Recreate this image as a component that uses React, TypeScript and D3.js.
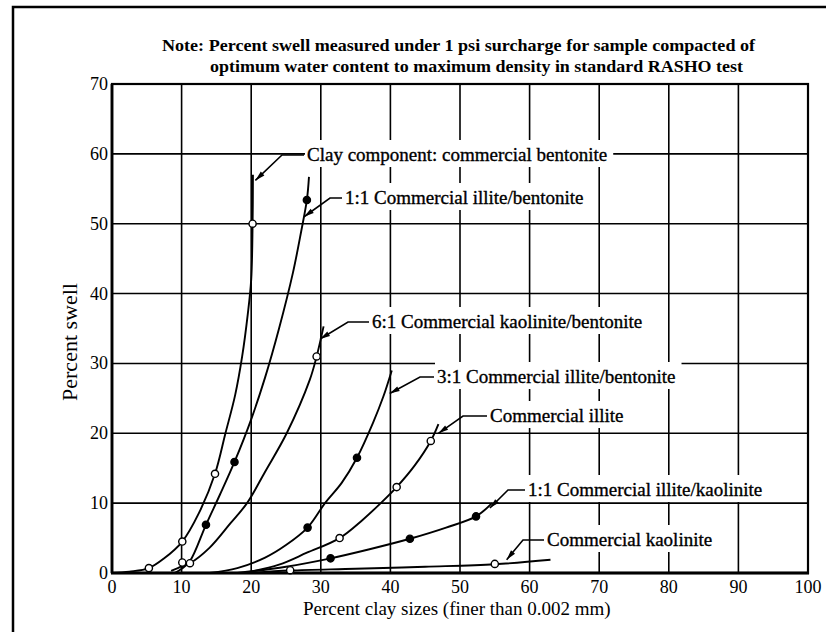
import React, { useEffect, useRef } from "react";
import * as d3 from "d3";

const W = 826;
const H = 632;

const xTicks = [0, 10, 20, 30, 40, 50, 60, 70, 80, 90, 100];
const yTicks = [0, 10, 20, 30, 40, 50, 60, 70];

const titleLines = [
  "Note: Percent swell measured under 1 psi surcharge for sample compacted of",
  "optimum water content to maximum density in standard RASHO test",
];
const xTitle = "Percent clay sizes (finer than 0.002 mm)";
const yTitle = "Percent swell";

// Swell curves: [percent clay sizes, percent swell]
const bentoniteCurve: [number, number][] = [
  [0, 0], [2.5, 0.2], [5.3, 0.7], [7.5, 2.1], [10.1, 4.5], [12.5, 8.6], [14.8, 14.2],
  [16.3, 20], [17.7, 25.5], [18.7, 31], [19.5, 37], [20.0, 42], [20.2, 50], [20.25, 57],
];
const bentoniteMarks: [number, number][] = [[5.3, 0.7], [10.1, 4.5], [14.8, 14.2], [20.2, 50]];

const illiteBentonite11Curve: [number, number][] = [
  [9, 0], [10, 0.6], [11.2, 1.7], [13.5, 6.9], [15.5, 11.2], [17.6, 15.9], [20, 22],
  [22, 28], [24, 35], [26, 43], [27.2, 49], [28, 53.4], [28.3, 56.7],
];
const illiteBentonite11Marks: [number, number][] = [[13.5, 6.9], [17.6, 15.9], [28, 53.4]];

const kaoliniteBentonite61Curve: [number, number][] = [
  [8.5, 0.3], [10.1, 1.0], [11.2, 1.4], [14, 3.6], [17, 7.1], [19.4, 10], [22, 14.5],
  [25.1, 20], [28.4, 27.6], [29.4, 31], [30.4, 35.3],
];
const kaoliniteBentonite61Marks: [number, number][] = [[10.1, 1.5], [11.2, 1.4], [29.4, 31]];

const illiteBentonite31Curve: [number, number][] = [
  [14, 0], [18, 0.7], [22, 2.2], [25, 4], [28.1, 6.5], [30.6, 10], [33, 12.9],
  [35.2, 16.5], [37.5, 21.5], [39, 25.3], [40.2, 29],
];
const illiteBentonite31Marks: [number, number][] = [[28.1, 6.5], [35.2, 16.5]];

const illiteCurve: [number, number][] = [
  [19, 0], [24, 1.2], [28, 2.9], [32.7, 5], [36, 7.6], [38.5, 9.9], [40.9, 12.3],
  [43.5, 15.4], [45.8, 18.9], [46.9, 21.3],
];
const illiteMarks: [number, number][] = [[32.7, 5], [40.9, 12.3], [45.8, 18.9]];

const illiteKaolinite11Curve: [number, number][] = [
  [18, 0], [25, 0.9], [31.4, 2.1], [37, 3.4], [42.8, 4.9], [48, 6.5], [52.3, 8.1], [54.6, 10],
];
const illiteKaolinite11Marks: [number, number][] = [[31.4, 2.1], [42.8, 4.9], [52.3, 8.1]];

const kaoliniteCurve: [number, number][] = [
  [20, 0], [25.6, 0.35], [35, 0.6], [45, 0.9], [55, 1.25], [63, 1.9],
];
const kaoliniteMarks: [number, number][] = [[25.6, 0.4], [55, 1.3]];

const seriesNames = [
  "Clay component: commercial bentonite",
  "1:1 Commercial illite/bentonite",
  "6:1 Commercial kaolinite/bentonite",
  "3:1 Commercial illite/bentonite",
  "Commercial illite",
  "1:1 Commercial illite/kaolinite",
  "Commercial kaolinite",
];

// Callout placement: text start x, leader y (px), elbow x (px), arrow tip in data units
const callouts = [
  { tx: 307, ly: 155, ex: 282, tip: [20.6, 56.2] },
  { tx: 345, ly: 198, ex: 330, tip: [27.6, 51] },
  { tx: 372, ly: 322, ex: 348, tip: [29.9, 33.5] },
  { tx: 437, ly: 377, ex: 420, tip: [39.9, 25.7] },
  { tx: 490, ly: 416, ex: 463, tip: [46.9, 20.0] },
  { tx: 528, ly: 490, ex: 508, tip: [54.3, 9.3] },
  { tx: 547, ly: 540, ex: 523, tip: [56.7, 1.9] },
];

const series = [
  { curve: bentoniteCurve, marks: bentoniteMarks, filled: false },
  { curve: illiteBentonite11Curve, marks: illiteBentonite11Marks, filled: true },
  { curve: kaoliniteBentonite61Curve, marks: kaoliniteBentonite61Marks, filled: false },
  { curve: illiteBentonite31Curve, marks: illiteBentonite31Marks, filled: true },
  { curve: illiteCurve, marks: illiteMarks, filled: false },
  { curve: illiteKaolinite11Curve, marks: illiteKaolinite11Marks, filled: true },
  { curve: kaoliniteCurve, marks: kaoliniteMarks, filled: false },
];

const FONT = "'Liberation Serif', 'Times New Roman', serif";

export default function App() {
  const ref = useRef<SVGSVGElement>(null);

  useEffect(() => {
    const svg = d3.select(ref.current);
    svg.selectAll("*").remove();

    const x = d3.scaleLinear().domain([0, 100]).range([112, 808]);
    const y = d3.scaleLinear().domain([0, 70]).range([573, 84]);

    svg.append("rect").attr("width", W).attr("height", H).attr("fill", "#fff");

    // outer frame (top and left edges)
    svg.append("path")
      .attr("d", `M13,${H} L13,7 L${W},7`)
      .attr("fill", "none").attr("stroke", "#000").attr("stroke-width", 2.5);

    // title
    const tpos = [{ x: 162, y: 51, len: 593 }, { x: 210, y: 72, len: 533 }];
    titleLines.forEach((t, i) => {
      svg.append("text")
        .attr("x", tpos[i].x).attr("y", tpos[i].y)
        .attr("textLength", tpos[i].len).attr("lengthAdjust", "spacingAndGlyphs")
        .attr("font-family", FONT).attr("font-size", 17).attr("font-weight", "bold")
        .text(t);
    });

    // grid
    const g = svg.append("g");
    g.selectAll("line.vx").data(xTicks.slice(1, -1)).join("line")
      .attr("x1", (d) => x(d)).attr("x2", (d) => x(d))
      .attr("y1", y(70)).attr("y2", y(0))
      .attr("stroke", "#000").attr("stroke-width", 1.6);
    g.selectAll("line.hy").data(yTicks.slice(1, -1)).join("line")
      .attr("y1", (d) => y(d)).attr("y2", (d) => y(d))
      .attr("x1", x(0)).attr("x2", x(100))
      .attr("stroke", "#000").attr("stroke-width", 1.6);

    // label backgrounds and text
    const labels = svg.append("g");
    callouts.forEach((c, i) => {
      const bg = labels.append("rect").attr("fill", "#fff");
      const t = labels.append("text")
        .attr("x", c.tx).attr("y", c.ly + 6)
        .attr("font-family", FONT).attr("font-size", 19)
        .attr("stroke", "#000").attr("stroke-width", 0.35)
        .text(seriesNames[i]);
      const w = (t.node() as SVGTextElement).getComputedTextLength();
      bg.attr("x", c.tx - 2).attr("y", c.ly - 15).attr("width", w + 8).attr("height", 27);
    });

    // frame
    svg.append("rect")
      .attr("x", x(0)).attr("y", y(70))
      .attr("width", x(100) - x(0)).attr("height", y(0) - y(70))
      .attr("fill", "none").attr("stroke", "#000").attr("stroke-width", 2.2);
    svg.append("line")
      .attr("x1", x(0) - 1).attr("x2", x(100) + 1).attr("y1", y(0)).attr("y2", y(0))
      .attr("stroke", "#000").attr("stroke-width", 3.2);
    svg.append("line")
      .attr("x1", x(0)).attr("x2", x(0)).attr("y1", y(70)).attr("y2", y(0))
      .attr("stroke", "#000").attr("stroke-width", 2.8);

    // curves
    const line = d3.line<[number, number]>()
      .x((d) => x(d[0])).y((d) => y(d[1]))
      .curve(d3.curveCatmullRom.alpha(0.5));
    series.forEach((s) => {
      svg.append("path").attr("d", line(s.curve))
        .attr("fill", "none").attr("stroke", "#000").attr("stroke-width", 1.9);
    });
    series.forEach((s) => {
      svg.append("g").selectAll("circle").data(s.marks).join("circle")
        .attr("cx", (d) => x(d[0])).attr("cy", (d) => y(d[1])).attr("r", 3.6)
        .attr("fill", s.filled ? "#000" : "#fff")
        .attr("stroke", "#000").attr("stroke-width", 1.4);
    });

    // leaders with arrowheads
    callouts.forEach((c) => {
      const tipX = x(c.tip[0]);
      const tipY = y(c.tip[1]);
      svg.append("path")
        .attr("d", `M${c.tx - 3},${c.ly} L${c.ex},${c.ly} L${tipX},${tipY}`)
        .attr("fill", "none").attr("stroke", "#000").attr("stroke-width", 1.6);
      const dx = tipX - c.ex, dy = tipY - c.ly;
      const len = Math.hypot(dx, dy);
      const ux = dx / len, uy = dy / len;
      const nx = -uy, ny = ux;
      const L = 10, Wd = 2.6;
      svg.append("path")
        .attr("d", `M${tipX},${tipY} L${tipX - ux * L + nx * Wd},${tipY - uy * L + ny * Wd} L${tipX - ux * L - nx * Wd},${tipY - uy * L - ny * Wd} Z`)
        .attr("fill", "#000");
    });

    // tick labels
    svg.append("g").selectAll("text").data(xTicks).join("text")
      .attr("x", (d) => x(d)).attr("y", 593)
      .attr("text-anchor", "middle")
      .attr("font-family", FONT).attr("font-size", 18)
      .text((d) => String(d));
    svg.append("g").selectAll("text").data(yTicks).join("text")
      .attr("x", 108).attr("y", (d) => y(d) + 6)
      .attr("text-anchor", "end")
      .attr("font-family", FONT).attr("font-size", 18)
      .text((d) => String(d));

    // axis titles
    svg.append("text")
      .attr("x", 303).attr("y", 615)
      .attr("font-family", FONT).attr("font-size", 19)
      .text(xTitle);
    svg.append("text")
      .attr("transform", `translate(77,342) rotate(-90)`)
      .attr("text-anchor", "middle")
      .attr("font-family", FONT).attr("font-size", 22)
      .text(yTitle);
  }, []);

  return (
    <svg ref={ref} width={W} height={H} viewBox={`0 0 ${W} ${H}`}
      style={{ display: "block", position: "absolute", left: 0, top: 0 }} />
  );
}
